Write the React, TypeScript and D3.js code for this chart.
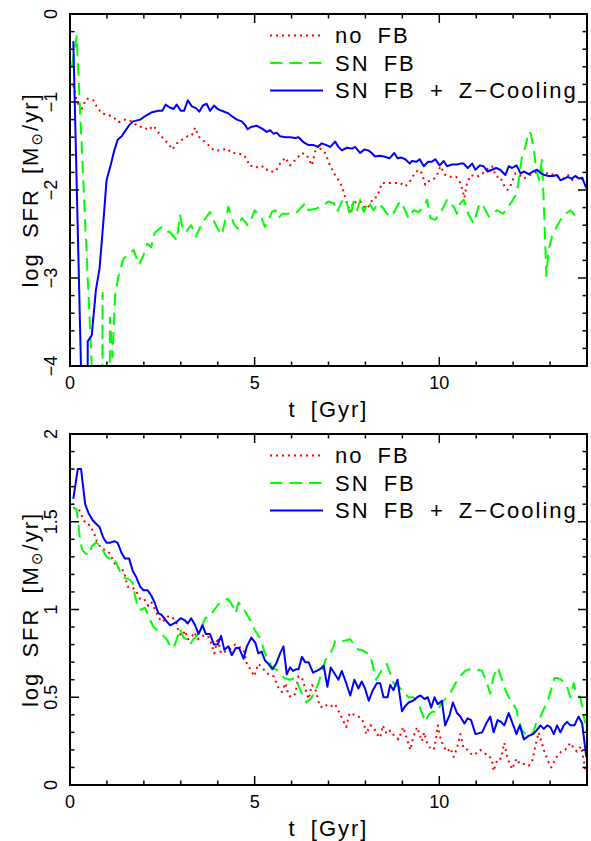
import React from 'react';
import * as d3 from 'd3';

// ---------- data ----------
const X_DOMAIN: [number, number] = [0, 14];
const X_MAJOR = [0, 5, 10];
const LEGEND_LABELS = ['no FB', 'SN FB', 'SN FB + Z\u2212Cooling'];
const TOP_Y_DOMAIN: [number, number] = [-4, 0];
const TOP_Y_MAJOR = [0, -1, -2, -3, -4];
const BOTTOM_Y_DOMAIN: [number, number] = [0, 2];
const BOTTOM_Y_MAJOR = [0, 0.5, 1, 1.5, 2];

// top panel: [t (Gyr), log SFR]; -30 marks no star formation (off the panel)
const topNoFB: [number, number][] = [
  [0.09,-0.81],[0.18,-0.98],[0.30,-1.11],[0.36,-1.03],[0.45,-0.96],[0.63,-0.98],[0.72,-1.05],[0.86,-1.13],[0.99,-1.14],
  [1.17,-1.17],[1.31,-1.23],[1.49,-1.20],[1.67,-1.22],[1.85,-1.28],[1.99,-1.28],[2.12,-1.32],[2.26,-1.27],[2.42,-1.36],
  [2.55,-1.43],[2.66,-1.47],[2.77,-1.54],[2.89,-1.47],[3.03,-1.43],[3.18,-1.39],[3.30,-1.38],[3.39,-1.29],[3.48,-1.39],
  [3.59,-1.43],[3.75,-1.49],[3.90,-1.55],[4.02,-1.55],[4.16,-1.54],[4.25,-1.53],[4.38,-1.58],[4.52,-1.58],[4.70,-1.60],
  [4.77,-1.64],[4.88,-1.73],[4.97,-1.72],[5.10,-1.75],[5.24,-1.73],[5.38,-1.79],[5.56,-1.79],[5.69,-1.70],[5.83,-1.63],
  [5.96,-1.72],[6.10,-1.66],[6.28,-1.58],[6.41,-1.60],[6.55,-1.72],[6.64,-1.56],[6.78,-1.53],[6.91,-1.58],[7.05,-1.73],
  [7.18,-1.83],[7.32,-1.92],[7.41,-2.02],[7.50,-2.15],[7.59,-2.25],[7.68,-2.13],[7.77,-2.15],[7.86,-2.13],[8.00,-2.21],
  [8.08,-2.19],[8.22,-2.09],[8.31,-2.08],[8.45,-1.92],[8.58,-1.92],[8.67,-1.92],[8.81,-1.92],[8.94,-1.92],[9.08,-1.96],
  [9.22,-1.89],[9.35,-1.80],[9.44,-1.77],[9.53,-1.81],[9.62,-1.94],[9.71,-1.90],[9.80,-1.89],[9.92,-1.85],[10.03,-1.73],
  [10.16,-1.83],[10.27,-1.85],[10.46,-1.85],[10.57,-1.92],[10.64,-2.02],[10.68,-2.09],[10.75,-1.92],[10.86,-1.83],
  [11.00,-1.85],[11.13,-1.83],[11.27,-1.77],[11.43,-1.73],[11.54,-1.85],[11.65,-1.85],[11.74,-1.94],[11.85,-2.00],
  [11.94,-1.94],[12.06,-1.81],[12.18,-1.83],[12.29,-1.87],[12.45,-1.83],[12.56,-1.81],[12.69,-1.79],[12.83,-1.79],
  [12.99,-1.83],[13.10,-1.82],[13.21,-1.85],[13.35,-1.87],[13.49,-1.83],[13.61,-1.89],[13.74,-1.85],[13.85,-1.87],[13.92,-1.89],
];

const topSNFB: [number, number][] = [
  [0.05,-0.60],[0.18,-0.25],[0.59,-4.00],[0.65,-30],[0.82,-30],[0.88,-3.17],[0.94,-30],[1.02,-30],[1.08,-3.45],
  [1.15,-3.90],[1.22,-3.20],[1.31,-2.98],[1.45,-2.78],[1.58,-2.73],[1.72,-2.68],[1.87,-2.85],[1.99,-2.74],[2.10,-2.61],
  [2.20,-2.65],[2.29,-2.49],[2.48,-2.42],[2.60,-2.47],[2.71,-2.48],[2.89,-2.57],[2.98,-2.28],[3.04,-2.42],[3.13,-2.48],
  [3.28,-2.40],[3.41,-2.53],[3.57,-2.38],[3.79,-2.25],[3.97,-2.42],[4.11,-2.51],[4.29,-2.19],[4.43,-2.38],[4.54,-2.44],
  [4.65,-2.32],[4.74,-2.36],[4.81,-2.40],[4.92,-2.32],[5.00,-2.23],[5.10,-2.28],[5.19,-2.32],[5.28,-2.42],[5.47,-2.25],
  [5.56,-2.23],[5.65,-2.32],[5.74,-2.27],[5.92,-2.27],[6.10,-2.27],[6.19,-2.23],[6.37,-2.15],[6.46,-2.23],[6.68,-2.21],
  [6.86,-2.17],[7.00,-2.13],[7.14,-2.15],[7.23,-2.25],[7.41,-2.09],[7.50,-2.15],[7.59,-2.30],[7.68,-2.13],[7.77,-2.23],
  [7.86,-2.11],[7.95,-2.25],[8.08,-2.13],[8.22,-2.23],[8.35,-2.15],[8.49,-2.21],[8.58,-2.27],[8.72,-2.30],[8.85,-2.19],
  [8.94,-2.13],[9.03,-2.19],[9.17,-2.32],[9.30,-2.23],[9.44,-2.25],[9.58,-2.19],[9.67,-2.11],[9.76,-2.32],[9.89,-2.34],
  [10.07,-2.23],[10.21,-2.11],[10.39,-2.19],[10.48,-2.27],[10.57,-2.15],[10.66,-2.11],[10.79,-2.28],[10.93,-2.38],
  [11.06,-2.19],[11.15,-2.15],[11.34,-2.30],[11.46,-2.27],[11.56,-2.23],[11.73,-2.27],[11.83,-2.21],[11.97,-2.13],
  [12.09,-2.04],[12.15,-1.89],[12.24,-1.62],[12.33,-1.51],[12.42,-1.34],[12.48,-1.36],[12.56,-1.55],[12.63,-1.77],
  [12.70,-1.89],[12.78,-1.66],[12.83,-2.15],[12.90,-2.98],[12.96,-2.68],[13.05,-2.53],[13.14,-2.45],[13.28,-2.34],
  [13.42,-2.27],[13.56,-2.23],[13.69,-2.30],[13.81,-2.30],
];

const topSNFBZ: [number, number][] = [
  [0.09,-0.31],[0.30,-4.05],[0.38,-30],[0.47,-30],[0.48,-3.72],[0.59,-3.65],[0.70,-3.14],[0.80,-2.89],[0.90,-2.38],
  [0.99,-1.89],[1.10,-1.72],[1.20,-1.55],[1.29,-1.43],[1.40,-1.39],[1.51,-1.32],[1.61,-1.26],[1.71,-1.22],[1.90,-1.20],
  [2.00,-1.17],[2.20,-1.12],[2.39,-1.10],[2.50,-1.10],[2.59,-1.03],[2.69,-1.06],[2.80,-1.08],[2.89,-1.03],[3.00,-1.10],
  [3.09,-1.10],[3.19,-0.98],[3.30,-1.05],[3.41,-1.07],[3.50,-1.11],[3.60,-1.04],[3.70,-1.02],[3.79,-1.10],[3.90,-1.04],
  [4.00,-1.08],[4.11,-1.10],[4.29,-1.13],[4.41,-1.17],[4.52,-1.20],[4.65,-1.22],[4.74,-1.26],[4.81,-1.31],[4.92,-1.28],
  [5.06,-1.27],[5.19,-1.30],[5.33,-1.34],[5.42,-1.32],[5.51,-1.36],[5.60,-1.35],[5.69,-1.39],[5.83,-1.40],[5.96,-1.40],
  [6.10,-1.41],[6.19,-1.40],[6.33,-1.46],[6.46,-1.49],[6.60,-1.49],[6.71,-1.51],[6.82,-1.47],[6.94,-1.49],[7.05,-1.51],
  [7.18,-1.45],[7.27,-1.51],[7.36,-1.55],[7.50,-1.52],[7.63,-1.53],[7.72,-1.51],[7.86,-1.58],[7.97,-1.54],[8.08,-1.55],
  [8.17,-1.58],[8.26,-1.62],[8.38,-1.61],[8.50,-1.62],[8.65,-1.64],[8.78,-1.58],[8.87,-1.64],[8.96,-1.63],[9.08,-1.65],
  [9.20,-1.70],[9.26,-1.67],[9.38,-1.68],[9.47,-1.65],[9.58,-1.73],[9.69,-1.68],[9.80,-1.68],[9.89,-1.65],[10.01,-1.72],
  [10.12,-1.67],[10.21,-1.73],[10.34,-1.71],[10.48,-1.71],[10.57,-1.70],[10.66,-1.70],[10.77,-1.75],[10.89,-1.70],
  [10.98,-1.77],[11.10,-1.72],[11.20,-1.73],[11.31,-1.79],[11.43,-1.77],[11.54,-1.75],[11.65,-1.77],[11.79,-1.83],
  [11.88,-1.73],[11.97,-1.75],[12.09,-1.72],[12.20,-1.81],[12.30,-1.79],[12.42,-1.82],[12.54,-1.79],[12.65,-1.77],
  [12.75,-1.81],[12.85,-1.83],[12.96,-1.84],[13.08,-1.84],[13.19,-1.83],[13.28,-1.89],[13.39,-1.87],[13.48,-1.85],
  [13.59,-1.87],[13.69,-1.84],[13.78,-1.87],[13.87,-1.86],[13.98,-1.98],
];

// bottom panel: [t (Gyr), log SFR]
const botNoFB: [number, number][] = [
  [0.09,1.58],[0.24,1.57],[0.33,1.53],[0.42,1.49],[0.54,1.48],[0.66,1.43],[0.72,1.39],[0.84,1.35],[0.95,1.34],[1.07,1.32],
  [1.17,1.28],[1.26,1.24],[1.38,1.24],[1.47,1.21],[1.56,1.13],[1.67,1.13],[1.78,1.11],[1.90,1.06],[2.01,1.06],[2.12,1.02],
  [2.21,1.04],[2.32,0.99],[2.39,0.96],[2.48,0.93],[2.57,0.94],[2.65,0.96],[2.76,0.96],[2.89,0.92],[2.94,0.87],[3.03,0.85],
  [3.12,0.88],[3.19,0.83],[3.28,0.84],[3.37,0.87],[3.46,0.83],[3.57,0.85],[3.64,0.85],[3.73,0.85],[3.82,0.81],[3.91,0.75],
  [4.00,0.84],[4.09,0.75],[4.20,0.76],[4.29,0.77],[4.38,0.78],[4.47,0.80],[4.56,0.79],[4.70,0.77],[4.79,0.69],[4.88,0.66],
  [4.99,0.62],[5.10,0.69],[5.24,0.66],[5.38,0.63],[5.51,0.62],[5.65,0.55],[5.74,0.53],[5.83,0.58],[5.92,0.51],[6.01,0.50],
  [6.10,0.52],[6.19,0.62],[6.28,0.61],[6.37,0.55],[6.46,0.49],[6.55,0.57],[6.64,0.55],[6.76,0.45],[6.87,0.44],[6.97,0.46],
  [7.09,0.45],[7.18,0.46],[7.30,0.41],[7.39,0.37],[7.48,0.33],[7.57,0.41],[7.70,0.40],[7.81,0.39],[7.90,0.38],[7.97,0.34],
  [8.02,0.29],[8.13,0.34],[8.22,0.33],[8.31,0.29],[8.40,0.27],[8.47,0.34],[8.58,0.29],[8.67,0.31],[8.78,0.28],[8.90,0.26],
  [9.02,0.33],[9.08,0.29],[9.17,0.23],[9.22,0.20],[9.29,0.27],[9.40,0.33],[9.53,0.25],[9.59,0.30],[9.67,0.24],[9.78,0.20],
  [9.87,0.21],[9.96,0.34],[10.05,0.25],[10.12,0.22],[10.21,0.19],[10.30,0.21],[10.39,0.16],[10.48,0.21],[10.57,0.29],
  [10.66,0.21],[10.77,0.20],[10.89,0.17],[11.00,0.18],[11.11,0.20],[11.22,0.18],[11.34,0.17],[11.43,0.14],[11.47,0.08],
  [11.58,0.15],[11.67,0.15],[11.76,0.24],[11.85,0.15],[11.97,0.09],[12.09,0.15],[12.18,0.12],[12.30,0.12],[12.42,0.11],
  [12.51,0.13],[12.60,0.22],[12.69,0.30],[12.75,0.26],[12.83,0.20],[12.92,0.15],[13.03,0.10],[13.12,0.14],[13.21,0.17],
  [13.30,0.19],[13.41,0.20],[13.55,0.24],[13.64,0.21],[13.73,0.19],[13.84,0.22],[13.93,0.12],[13.97,0.07],
];

const botSNFB: [number, number][] = [
  [0.09,1.58],[0.18,1.57],[0.24,1.46],[0.27,1.40],[0.33,1.34],[0.42,1.32],[0.51,1.31],[0.59,1.36],[0.70,1.38],[0.80,1.37],
  [0.88,1.34],[0.99,1.30],[1.08,1.29],[1.17,1.30],[1.24,1.27],[1.33,1.23],[1.40,1.19],[1.49,1.18],[1.61,1.17],[1.70,1.15],
  [1.76,1.08],[1.85,1.00],[1.94,1.00],[2.03,1.01],[2.17,0.94],[2.26,0.90],[2.32,0.89],[2.44,0.87],[2.53,0.85],[2.62,0.83],
  [2.74,0.78],[2.82,0.79],[2.89,0.83],[2.98,0.89],[3.07,0.84],[3.18,0.83],[3.25,0.80],[3.34,0.83],[3.43,0.85],[3.52,0.88],
  [3.66,0.95],[3.79,0.96],[3.88,0.99],[4.02,1.03],[4.15,1.05],[4.27,1.06],[4.38,1.03],[4.49,0.98],[4.56,1.04],[4.65,1.02],
  [4.74,0.99],[4.88,0.94],[5.01,0.88],[5.17,0.83],[5.26,0.76],[5.37,0.71],[5.47,0.67],[5.56,0.66],[5.65,0.65],[5.80,0.61],
  [5.96,0.60],[6.10,0.61],[6.32,0.50],[6.41,0.47],[6.55,0.50],[6.69,0.56],[6.82,0.64],[6.91,0.71],[7.05,0.75],[7.14,0.79],
  [7.18,0.82],[7.40,0.82],[7.59,0.83],[7.81,0.77],[7.90,0.77],[8.13,0.74],[8.29,0.60],[8.45,0.66],[8.58,0.69],[8.76,0.58],
  [8.90,0.56],[9.08,0.52],[9.17,0.50],[9.30,0.50],[9.44,0.46],[9.53,0.41],[9.62,0.36],[9.71,0.40],[9.83,0.42],[9.92,0.41],
  [10.07,0.47],[10.21,0.50],[10.34,0.54],[10.44,0.58],[10.52,0.61],[10.70,0.65],[10.84,0.66],[11.00,0.66],[11.16,0.65],
  [11.29,0.58],[11.38,0.52],[11.47,0.62],[11.58,0.67],[11.70,0.60],[11.83,0.52],[11.97,0.47],[12.09,0.43],[12.15,0.37],
  [12.24,0.31],[12.40,0.28],[12.55,0.30],[12.63,0.36],[12.74,0.39],[12.87,0.45],[12.94,0.48],[13.05,0.56],[13.12,0.61],
  [13.19,0.61],[13.30,0.60],[13.46,0.56],[13.55,0.50],[13.64,0.58],[13.71,0.52],[13.82,0.50],[13.91,0.39],[13.96,0.35],
];

const botSNFBZ: [number, number][] = [
  [0.09,1.63],[0.21,1.80],[0.30,1.80],[0.41,1.60],[0.50,1.55],[0.61,1.51],[0.70,1.49],[0.80,1.47],[0.90,1.41],[0.99,1.38],
  [1.08,1.38],[1.20,1.39],[1.29,1.38],[1.40,1.32],[1.49,1.29],[1.60,1.29],[1.70,1.22],[1.78,1.19],[1.90,1.13],[1.99,1.11],
  [2.10,1.11],[2.20,1.08],[2.29,1.04],[2.39,0.98],[2.48,0.97],[2.59,0.94],[2.71,0.91],[2.80,0.92],[2.89,0.93],[3.00,0.95],
  [3.10,0.94],[3.19,0.92],[3.28,0.95],[3.39,0.91],[3.48,0.86],[3.59,0.91],[3.68,0.86],[3.79,0.86],[3.90,0.80],[4.00,0.80],
  [4.09,0.85],[4.18,0.77],[4.29,0.79],[4.38,0.74],[4.49,0.78],[4.58,0.78],[4.70,0.72],[4.79,0.79],[4.91,0.84],[5.02,0.81],
  [5.10,0.75],[5.19,0.76],[5.28,0.71],[5.37,0.69],[5.48,0.66],[5.58,0.69],[5.69,0.75],[5.78,0.79],[5.87,0.63],[5.96,0.67],
  [6.04,0.65],[6.13,0.66],[6.19,0.66],[6.28,0.73],[6.37,0.70],[6.46,0.70],[6.58,0.64],[6.68,0.65],[6.77,0.66],[6.87,0.68],
  [6.97,0.56],[7.06,0.67],[7.18,0.63],[7.27,0.60],[7.36,0.65],[7.48,0.58],[7.59,0.51],[7.70,0.60],[7.81,0.55],[7.90,0.59],
  [7.99,0.55],[8.09,0.48],[8.20,0.54],[8.31,0.58],[8.40,0.58],[8.49,0.50],[8.60,0.50],[8.67,0.57],[8.76,0.54],[8.87,0.60],
  [8.99,0.42],[9.08,0.45],[9.17,0.47],[9.29,0.48],[9.40,0.50],[9.49,0.51],[9.60,0.49],[9.69,0.50],[9.78,0.44],[9.87,0.50],
  [9.96,0.46],[10.07,0.48],[10.16,0.34],[10.28,0.40],[10.37,0.47],[10.48,0.41],[10.57,0.39],[10.68,0.35],[10.77,0.38],
  [10.86,0.37],[10.98,0.29],[11.16,0.30],[11.27,0.35],[11.38,0.39],[11.47,0.30],[11.58,0.37],[11.67,0.36],[11.76,0.34],
  [11.88,0.41],[11.97,0.36],[12.09,0.29],[12.18,0.34],[12.29,0.26],[12.42,0.28],[12.54,0.29],[12.63,0.31],[12.74,0.34],
  [12.83,0.32],[12.92,0.34],[13.01,0.33],[13.10,0.29],[13.19,0.34],[13.28,0.30],[13.37,0.34],[13.46,0.36],[13.55,0.34],
  [13.66,0.34],[13.77,0.39],[13.87,0.35],[13.98,0.16],
];

// ---------- styling ----------
const FONT = '"Liberation Sans", Arial, Helvetica, sans-serif';
const SERIES_STYLE = [
  { color: '#ff0000', dash: '2 4', width: 2 },
  { color: '#00ff00', dash: '12.5 7', width: 2 },
  { color: '#0000ff', dash: undefined as string | undefined, width: 2 },
];
const LEFT = 70, RIGHT = 587;

function fmtY(v: number) {
  const s = String(Math.abs(v));
  return v < 0 ? '\u2212' + s : s;
}

type PanelProps = {
  id: string;
  top: number;
  bottom: number;
  yDomain: [number, number];
  yMajor: number[];
  yMinorStep: number;
  series: [number, number][][];
};

function Panel({ id, top, bottom, yDomain, yMajor, yMinorStep, series }: PanelProps) {
  const x = d3.scaleLinear().domain(X_DOMAIN).range([LEFT, RIGHT]);
  const y = d3.scaleLinear().domain(yDomain).range([bottom, top]);
  const line = d3.line<[number, number]>().x(d => x(d[0])).y(d => y(d[1]));
  const xMinor = d3.range(X_DOMAIN[0], X_DOMAIN[1] + 0.001, 1).filter(t => !X_MAJOR.includes(t));
  const nMinor = Math.round((yDomain[1] - yDomain[0]) / yMinorStep);
  const yMinor = d3.range(0, nMinor + 1).map(i => yDomain[0] + i * yMinorStep)
    .filter(v => !yMajor.some(m => Math.abs(m - v) < 1e-6));
  const MAJ = 9, MIN = 4.5;
  const tickStroke = { stroke: '#000', strokeWidth: 1.5 };
  const midY = (top + bottom) / 2;
  return (
    <g>
      <defs>
        <clipPath id={`clip-${id}`}>
          <rect x={LEFT} y={top} width={RIGHT - LEFT} height={bottom - top} />
        </clipPath>
      </defs>
      <g clipPath={`url(#clip-${id})`}>
        {series.map((s, i) => (
          <path key={i} d={line(s) || ''} fill="none" stroke={SERIES_STYLE[i].color}
            strokeWidth={SERIES_STYLE[i].width} strokeDasharray={SERIES_STYLE[i].dash}
            strokeLinejoin="round" />
        ))}
      </g>
      {X_MAJOR.concat(xMinor).map(t => {
        const len = X_MAJOR.includes(t) ? MAJ : MIN;
        return (
          <g key={`xt${t}`}>
            <line x1={x(t)} x2={x(t)} y1={bottom} y2={bottom - len} {...tickStroke} />
            <line x1={x(t)} x2={x(t)} y1={top} y2={top + len} {...tickStroke} />
          </g>
        );
      })}
      {yMajor.concat(yMinor).map(v => {
        const len = yMajor.some(m => Math.abs(m - v) < 1e-6) ? MAJ : MIN;
        return (
          <g key={`yt${v}`}>
            <line x1={LEFT} x2={LEFT + len} y1={y(v)} y2={y(v)} {...tickStroke} />
            <line x1={RIGHT} x2={RIGHT - len} y1={y(v)} y2={y(v)} {...tickStroke} />
          </g>
        );
      })}
      <rect x={LEFT} y={top} width={RIGHT - LEFT} height={bottom - top} fill="none" stroke="#000" strokeWidth={2} />
      {X_MAJOR.map(t => (
        <text key={`xl${t}`} x={x(t)} y={bottom + 23} textAnchor="middle" fontSize={18} fontFamily={FONT}>{t}</text>
      ))}
      {yMajor.map(v => (
        <text key={`yl${v}`} transform={`translate(57,${y(v)}) rotate(-90)`} textAnchor="middle" fontSize={18}
          fontFamily={FONT}>{fmtY(v)}</text>
      ))}
      <text x={(LEFT + RIGHT) / 2} y={bottom + 51} textAnchor="middle" fontSize={22} fontFamily={FONT}
        letterSpacing={2} wordSpacing={6}>t [Gyr]</text>
      <text transform={`translate(38,${midY}) rotate(-90)`} textAnchor="middle" fontSize={22} fontFamily={FONT}
        letterSpacing={2} wordSpacing={6}>
        log SFR [M<tspan fontSize={15} dy={4} fontFamily='"DejaVu Sans", sans-serif'>{'\u2299'}</tspan><tspan dy={-4}>/yr]</tspan>
      </text>
      {LEGEND_LABELS.map((lab, i) => {
        const base = top + 29 + i * 27.5;
        return (
          <g key={`lg${i}`}>
            <line x1={270} x2={323} y1={base - 7.5} y2={base - 7.5} stroke={SERIES_STYLE[i].color}
              strokeWidth={SERIES_STYLE[i].width} strokeDasharray={SERIES_STYLE[i].dash} />
            <text x={335} y={base} fontSize={22} fontFamily={FONT} letterSpacing={2} wordSpacing={6}>{lab}</text>
          </g>
        );
      })}
    </g>
  );
}

export default function App() {
  return (
    <svg width={591} height={841} viewBox="0 0 591 841"
      style={{ position: 'absolute', left: 0, top: 0, background: '#fff', display: 'block' }}>
      <rect x={0} y={0} width={591} height={841} fill="#fff" />
      <Panel id="top" top={14} bottom={366} yDomain={TOP_Y_DOMAIN} yMajor={TOP_Y_MAJOR} yMinorStep={0.2}
        series={[topNoFB, topSNFB, topSNFBZ]} />
      <Panel id="bot" top={434} bottom={785} yDomain={BOTTOM_Y_DOMAIN} yMajor={BOTTOM_Y_MAJOR} yMinorStep={0.1}
        series={[botNoFB, botSNFB, botSNFBZ]} />
    </svg>
  );
}
